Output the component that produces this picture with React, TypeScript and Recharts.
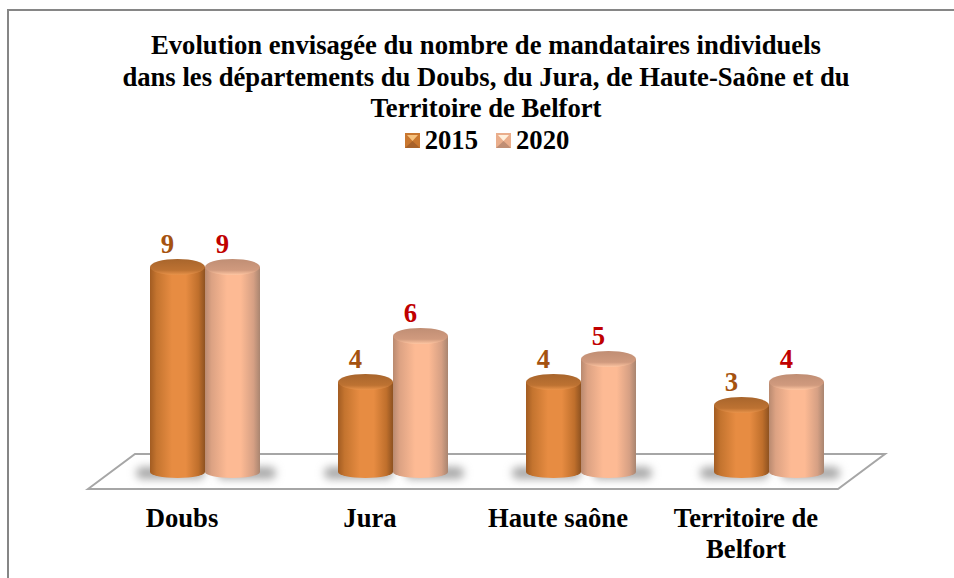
import { BarChart, Bar, XAxis, YAxis, Legend, LabelList } from 'recharts';

const categories = ['Doubs', 'Jura', 'Haute saône', 'Territoire de Belfort'];
const values2015 = [9, 4, 4, 3];
const values2020 = [9, 6, 5, 4];
const titleLines = [
  'Evolution envisagée du nombre de mandataires individuels',
  'dans les départements du Doubs, du Jura, de Haute-Saône et du',
  'Territoire de Belfort',
];

const chartData = categories.map((name, i) => ({
  name,
  y2015: values2015[i],
  y2020: values2020[i],
}));

const SERIF = '"Liberation Serif", "Times New Roman", serif';
const FONT_SIZE = 26.67;

// cylindre 3D dessiné a partir du rectangle de la barre
function Cylinder(props: any) {
  const { x, y, width, height, id } = props;
  const rx = width / 2;
  const bottom = y + height - 2;
  const body = `M${x},${y} L${x},${bottom} A${rx},6 0 0 0 ${x + width},${bottom} L${x + width},${y} Z`;
  // ombre portée sur le plateau
  const shadowX = id === '2015' ? x - 14 : x + 12;
  const shadowW = id === '2015' ? width + 14 : width + 4;
  return (
    <g>
      <rect x={shadowX} y={bottom - 5} width={shadowW} height={12} rx={6} fill="#a8a8a8" filter="url(#floorShadow)" />
      <path d={body} fill={`url(#side${id})`} />
      <ellipse cx={x + rx} cy={y} rx={rx} ry={8} fill={`url(#top${id})`} />
    </g>
  );
}

function ValueLabel(props: any) {
  const { x, y, width, value, color } = props;
  return (
    <text x={x + width / 2 - 10} y={y - 14} textAnchor="middle" fill={color} fontFamily={SERIF} fontWeight="bold" fontSize={FONT_SIZE}>
      {value}
    </text>
  );
}

function CategoryTick(props: any) {
  const { x, y, payload } = props;
  const words = payload.value === 'Territoire de Belfort' ? ['Territoire de', 'Belfort'] : [payload.value];
  return (
    <text x={x - 23} y={y} textAnchor="middle" fill="#000" fontFamily={SERIF} fontWeight="bold" fontSize={FONT_SIZE}>
      {words.map((w: string, i: number) => (
        <tspan key={w} x={x - 23} dy={i === 0 ? 0 : 31}>
          {w}
        </tspan>
      ))}
    </text>
  );
}

function LegendSwatch({ tip, side, edge }: { tip: string; side: string; edge: string }) {
  return (
    <svg width={15} height={15} style={{ marginRight: 5 }}>
      <rect width={15} height={15} fill={side} />
      <path d="M0,15 L7.5,8 L15,15 Z" fill={edge} />
      <path d="M2,2 L13,2 L7.5,8 Z" fill={tip} />
    </svg>
  );
}

function TitleLegend() {
  return (
    <div style={{ fontFamily: SERIF, fontWeight: 'bold', fontSize: FONT_SIZE, lineHeight: '31px', color: '#000', textAlign: 'center' }}>
      <span style={{ display: 'inline-flex', alignItems: 'center', marginRight: 18 }}>
        <LegendSwatch tip="#f6c27e" side="#c9772f" edge="#a8622a" />2015
      </span>
      <span style={{ display: 'inline-flex', alignItems: 'center' }}>
        <LegendSwatch tip="#fff0dc" side="#eaae8c" edge="#c08e74" />2020
      </span>
    </div>
  );
}

export default function App() {
  return (
    <div style={{ position: 'absolute', left: 0, top: 0, width: 954, height: 578, background: '#fff', overflow: 'hidden' }}>
      <div style={{ position: 'absolute', left: 7, top: 9, width: 947, height: 569, borderTop: '2px solid #868686', borderLeft: '2px solid #868686', boxSizing: 'border-box' }} />
      <div style={{ position: 'absolute', left: 0, top: 30, width: 972, textAlign: 'center', fontFamily: SERIF, fontWeight: 'bold', fontSize: FONT_SIZE, lineHeight: '31.5px', color: '#000' }}>
        {titleLines.map((t) => (
          <div key={t}>{t}</div>
        ))}
      </div>
      <svg width={954} height={578} style={{ position: 'absolute', left: 0, top: 0 }}>
        <polygon points="88,489 135,454 885,454 838,489" fill="#fff" stroke="#a6a6a6" strokeWidth={2} />
      </svg>
      <div style={{ position: 'absolute', left: 0, top: 0 }}>
        <BarChart
          width={954}
          height={578}
          data={chartData}
          margin={{ top: 212, right: 91, bottom: 74, left: 111 }}
          barSize={55}
          barGap={0}
        >
          <defs>
            <filter id="floorShadow" x="-20%" y="-100%" width="140%" height="300%">
              <feGaussianBlur stdDeviation="4" />
            </filter>
            <linearGradient id="side2015" x1="0" y1="0" x2="1" y2="0">
              <stop offset="0" stopColor="#a25c22" />
              <stop offset="0.12" stopColor="#c4742f" />
              <stop offset="0.4" stopColor="#e78c42" />
              <stop offset="0.65" stopColor="#e78c42" />
              <stop offset="0.88" stopColor="#bf6f2c" />
              <stop offset="1" stopColor="#8e5220" />
            </linearGradient>
            <linearGradient id="top2015" x1="0" y1="0" x2="0" y2="1">
              <stop offset="0" stopColor="#a8652c" />
              <stop offset="0.7" stopColor="#bd7232" />
              <stop offset="1" stopColor="#e9934a" />
            </linearGradient>
            <linearGradient id="side2020" x1="0" y1="0" x2="1" y2="0">
              <stop offset="0" stopColor="#b98a70" />
              <stop offset="0.12" stopColor="#dca283" />
              <stop offset="0.4" stopColor="#fdba94" />
              <stop offset="0.65" stopColor="#fdba94" />
              <stop offset="0.88" stopColor="#d6a084" />
              <stop offset="1" stopColor="#a98570" />
            </linearGradient>
            <linearGradient id="top2020" x1="0" y1="0" x2="0" y2="1">
              <stop offset="0" stopColor="#c08e74" />
              <stop offset="0.7" stopColor="#d09a7e" />
              <stop offset="1" stopColor="#ffc6a2" />
            </linearGradient>
          </defs>
          <XAxis dataKey="name" axisLine={false} tickLine={false} interval={0} tick={<CategoryTick />} tickMargin={47} />
          <YAxis hide domain={[0, 10]} tickCount={6} />
          <Legend content={<TitleLegend />} verticalAlign="top" wrapperStyle={{ top: 124, left: 10, width: 954 }} />
          <Bar dataKey="y2015" name="2015" isAnimationActive={false} shape={<Cylinder id="2015" />}>
            <LabelList dataKey="y2015" content={(p: any) => <ValueLabel {...p} color="#a5520f" />} />
          </Bar>
          <Bar dataKey="y2020" name="2020" isAnimationActive={false} shape={<Cylinder id="2020" />}>
            <LabelList dataKey="y2020" content={(p: any) => <ValueLabel {...p} color="#c00000" />} />
          </Bar>
        </BarChart>
      </div>
    </div>
  );
}
